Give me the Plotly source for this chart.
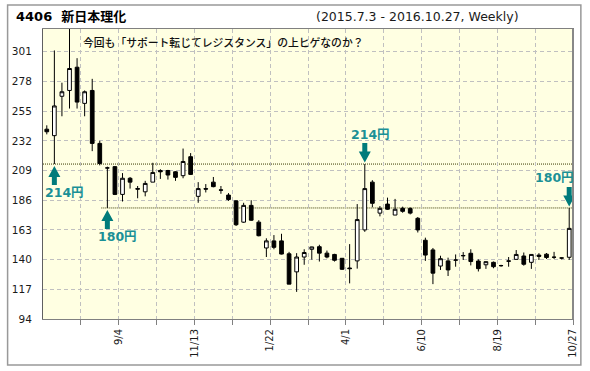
import plotly.graph_objects as go

# ---- data (weekly candles, 2015.7.3 - 2016.10.27) ----
opens = [241, 236, 266.5, 271, 289, 261, 271, 230, 211, 212,
         190.5, 203, 195, 192.5, 200, 209, 209, 208, 205, 219.7,
         189, 195, 200, 194, 190, 185.5, 169, 182, 169, 149,
         154.5, 154.5, 144.5, 130.5, 142, 148, 150, 145, 144, 141,
         133.5, 139, 163, 200, 176, 183, 174.5, 179.7, 179.5, 172,
         155, 147.5, 135, 139, 139.7, 143.2, 144.9, 138.9, 136, 137.9,
         135.4, 139, 140.2, 142.8, 137.9, 143.5, 144.2, 141.9, 141.3, 141.8]
highs = [244, 302, 277, 325, 296, 271, 280, 232, 212, 212.5,
         207, 204, 197, 201, 215, 210, 209.5, 208.5, 226, 222.5,
         200, 198.5, 204, 197, 191.5, 186, 184, 186, 170.5, 156.5,
         159, 160, 146, 145, 148, 150, 151.5, 147, 144.5, 141,
         152, 183, 214, 201.5, 181.5, 188, 187, 181, 180.5, 173,
         157, 149, 143, 141.5, 144, 145.8, 148, 140.2, 138.6, 138.5,
         136, 142, 147.4, 145.5, 144.2, 145, 145.1, 146, 141.6, 180]
lows = [237, 214, 251, 257, 257, 251, 224, 213, 180, 190,
        185, 195, 187.5, 189, 200, 202.5, 202, 201, 203, 205.5,
        184, 192, 196, 191, 185.5, 166, 168.5, 170, 158, 142,
        148, 144, 121, 115, 136, 140, 138.5, 141, 138.5, 132,
        121.6, 133, 161.5, 180.5, 173.5, 178.5, 174.5, 176.3, 175, 161,
        139, 121, 132, 127.3, 134.5, 139.7, 135.5, 130.8, 132.8, 133.3,
        134.5, 134.5, 140, 135.3, 132.8, 139.7, 140.5, 140.5, 140.2, 139.8]
closes = [239, 259, 270, 288, 262, 270, 230, 214.5, 211, 190.5,
          203, 200, 194.6, 199, 207.5, 208, 205.5, 203.7, 216, 206,
          195, 194.6, 196.5, 193.8, 186.5, 167, 182, 170.5, 158.5, 154.5,
          149.5, 144.3, 121, 142, 145.5, 149.8, 145, 142, 139.5, 132.5,
          133, 171, 195, 183.6, 179.7, 179, 179, 177.4, 176, 163,
          143.5, 129.5, 140.7, 132, 139.6, 143, 138.5, 133, 138.4, 134.5,
          135.3, 138.8, 144, 136.4, 144, 142.5, 141.6, 141.8, 141.2, 164.2]

# x-axis ticks (week index of the dated candle) and their labels
tick_weeks = [4, 9, 14, 19, 24, 29, 34, 39, 44, 49, 54, 59, 64, 69]
tick_labels = ["", "9/4", "", "11/13", "", "1/22", "", "4/1", "", "6/10", "", "8/19", "", "10/27"]

y_ticks = [94, 117, 140, 163, 186, 209, 232, 255, 278, 301]

# support / resistance levels
levels = [214, 180]
level_start_week = [None, 8]

# highlighted candles
mark_weeks = [1, 8, 42, 69]
mark_side = ["low", "low", "high", "high"]
mark_labels = ["214円", "180円", "214円", "180円"]
mark_label_dx = [10, 10, 6, -15]

title_text = "4406\u00a0\u00a0新日本理化"
subtitle_text = "(2015.7.3 - 2016.10.27, Weekly)"
comment_text = "今回も「サポート転じてレジスタンス」の上ヒゲなのか？"

# ---- figure ----
n = len(opens)
xs = list(range(n))

fig = go.Figure()
fig.add_trace(go.Candlestick(
    x=xs, open=opens, high=highs, low=lows, close=closes,
    increasing=dict(line=dict(color="#000000", width=1), fillcolor="#ffffff"),
    decreasing=dict(line=dict(color="#000000", width=1), fillcolor="#000000"),
    whiskerwidth=0, showlegend=False, hoverinfo="skip",
))

W, H = 590, 371
L, R, T, B = 38, 13, 29, 52
pw, ph = W - L - R, H - T - B

def px_x(p):
    return (p - L) / pw

def px_y(p):
    return (H - B - p) / ph

shapes = []
annotations = []

# level lines
for lv, st in zip(levels, level_start_week):
    x0 = -0.5 if st is None else st - 0.8
    shapes.append(dict(type="line", xref="x", yref="y", x0=x0, x1=n - 0.5, y0=lv, y1=lv,
                       line=dict(color="#3a3a00", width=1, dash="1px,1px"), layer="below"))

# arrows + labels
arrow_col = "#007b7b"
text_col = "#1a9096"
up_path = "M 0,-2 L 6,-13 L 2.5,-13 L 2.5,-21 L -2.5,-21 L -2.5,-13 L -6,-13 Z"
down_path = "M 0,1.5 L 6,12.5 L 2.5,12.5 L 2.5,21 L -2.5,21 L -2.5,12.5 L -6,12.5 Z"
for wk, side, lab, dx in zip(mark_weeks, mark_side, mark_labels, mark_label_dx):
    yv = lows[wk] if side == "low" else highs[wk]
    shapes.append(dict(type="path", xref="x", yref="y", xsizemode="pixel", ysizemode="pixel",
                       xanchor=wk, yanchor=yv,
                       path=up_path if side == "low" else down_path,
                       fillcolor=arrow_col, line=dict(width=0)))
    annotations.append(dict(x=wk, y=yv, xref="x", yref="y", text=lab, showarrow=False,
                            xshift=dx, yshift=-28.7 if side == "low" else 30,
                            xanchor="center", yanchor="middle",
                            font=dict(family="DejaVu Sans, Noto Sans CJK JP", size=12.5,
                                      color=text_col, weight="bold")))

# outer frame
shapes.append(dict(type="rect", xref="paper", yref="paper",
                   x0=px_x(2), x1=px_x(585), y0=px_y(365), y1=px_y(5),
                   line=dict(color="#999999", width=1.5), fillcolor="rgba(0,0,0,0)", layer="below"))
# right border of plot (thicker)
shapes.append(dict(type="line", xref="paper", yref="paper", x0=1, x1=1, y0=0, y1=1,
                   line=dict(color="#888888", width=2)))

annotations.append(dict(xref="paper", yref="paper", x=px_x(8), y=px_y(16.5), text=title_text,
                        showarrow=False, xanchor="left", yanchor="middle",
                        font=dict(family="DejaVu Sans, Noto Sans CJK JP", size=13, color="#000000",
                                  weight="bold")))
annotations.append(dict(xref="paper", yref="paper", x=px_x(524), y=px_y(17), text=subtitle_text,
                        showarrow=False, xanchor="right", yanchor="middle",
                        font=dict(family="DejaVu Sans", size=12.5, color="#1a1a1a")))
annotations.append(dict(xref="paper", yref="paper", x=px_x(77), y=px_y(41.7), text=comment_text,
                        showarrow=False, xanchor="left", yanchor="middle",
                        font=dict(family="Noto Sans CJK JP", size=10.8, color="#111111",
                                  weight=500)))

fig.update_layout(
    width=W, height=H,
    margin=dict(l=L, r=R, t=T, b=B, pad=0),
    paper_bgcolor="#ffffff",
    plot_bgcolor="#ffffe2",
    shapes=shapes,
    annotations=annotations,
    showlegend=False,
    xaxis=dict(
        range=[-0.5, n - 0.5],
        tickmode="array",
        tickvals=[w + 0.5 for w in tick_weeks],
        ticktext=tick_labels,
        tickangle=-90,
        ticks="outside", ticklen=5, tickcolor="#808080", tickwidth=1,
        showgrid=True, gridcolor="#c0c0c0", gridwidth=1, griddash="4px,3px",
        showline=True, linecolor="#808080", linewidth=1, mirror=True,
        zeroline=False,
        rangeslider=dict(visible=False),
        tickfont=dict(family="DejaVu Sans", size=10, color="#1a1a1a"),
        fixedrange=True,
    ),
    yaxis=dict(
        range=[94, 318.6],
        tickmode="array",
        tickvals=y_ticks,
        ticks="", ticklabelstandoff=8,
        showgrid=True, gridcolor="#c0c0c0", gridwidth=1, griddash="4px,3px",
        showline=True, linecolor="#606060", linewidth=1, mirror=True,
        zeroline=False,
        tickfont=dict(family="DejaVu Sans", size=10.5, color="#1a1a1a"),
        fixedrange=True,
    ),
)

fig.write_html("out.html")
